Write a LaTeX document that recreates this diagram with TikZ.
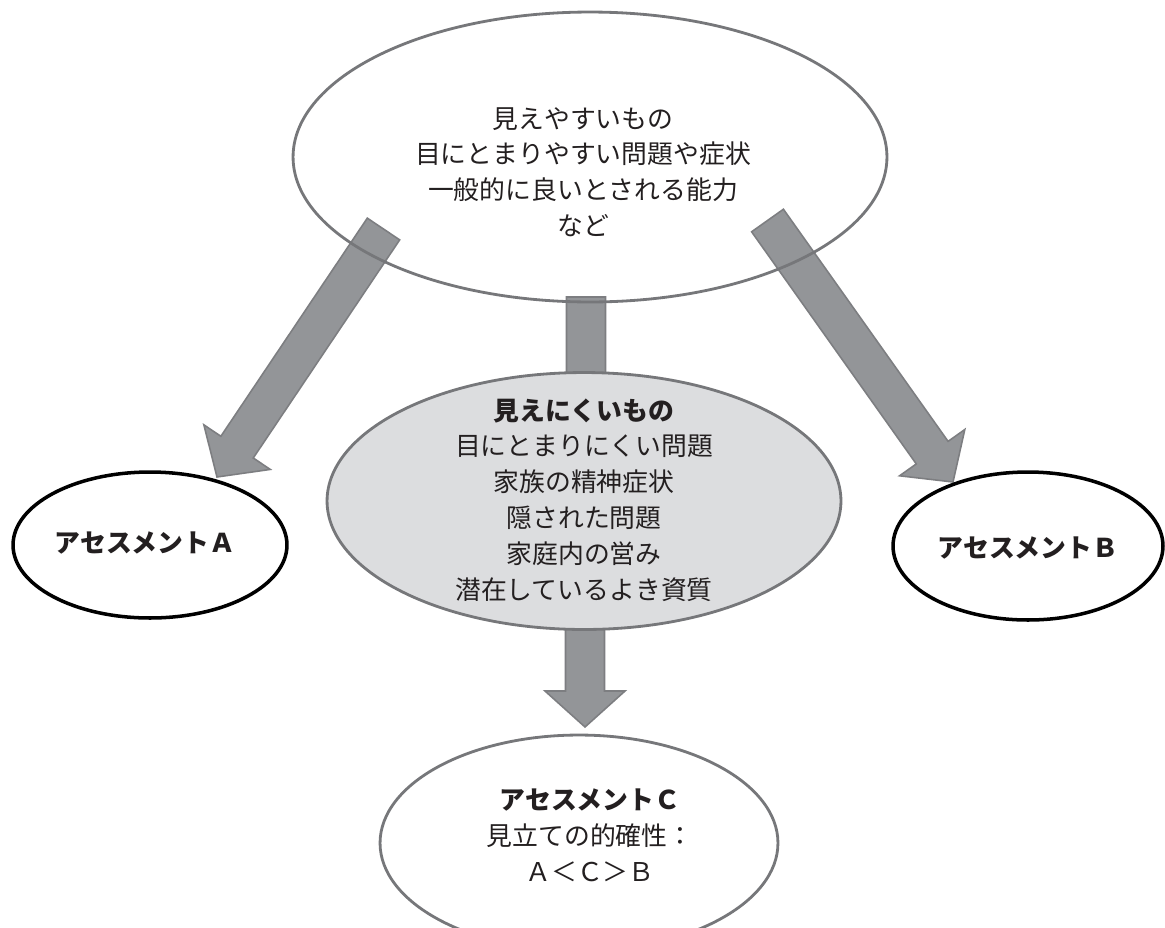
\documentclass[tikz,border=0pt]{standalone}
\usepackage{fontspec}
\newfontfamily\cjk{Noto Sans CJK JP}
\usetikzlibrary{shapes.geometric,calc}
\definecolor{arrowfill}{HTML}{939598}
\definecolor{arrowline}{HTML}{7D7E81}
\definecolor{ellline}{HTML}{76777A}
\definecolor{ellgray}{HTML}{DCDDDF}
\definecolor{txt}{HTML}{231F20}
\tikzset{
  blockarrowstyle/.style={fill=arrowfill, draw=arrowline, line width=0.9pt, line join=miter},
  ellbox/.style={ellipse, inner sep=0pt, outer sep=0pt},
  grayline/.style={draw=ellline, line width=1.6pt},
  blackline/.style={draw=black, line width=2pt},
  label/.style={font=\cjk\fontsize{14.7}{20.4}\selectfont, text=txt, align=center, inner sep=0pt}
}
% #1 tail, #2 tip
\newcommand{\blockarrow}[2]{%
  \coordinate (nk) at ($(#2)!0.72cm!(#1)$);
  \filldraw[blockarrowstyle]
    ($(#1)!0.39cm!90:(#2)$) -- ($(nk)!0.39cm!90:(#2)$) -- ($(nk)!0.8cm!90:(#2)$)
    -- (#2) -- ($(nk)!0.8cm!-90:(#2)$) -- ($(nk)!0.39cm!-90:(#2)$)
    -- ($(#1)!0.39cm!-90:(#2)$) -- cycle;}
\begin{document}
\begin{tikzpicture}[x=0.02cm, y=-0.02cm]
\useasboundingbox (0,0) rectangle (1165,927);
% arrow end points
\coordinate (tL) at (383.5,229);
\coordinate (pL) at (217,477);
\coordinate (tR) at (767.5,220.5);
\coordinate (pR) at (953,482);
\coordinate (tM) at (586,297);
\coordinate (pM) at (586,440);
\coordinate (tC) at (585,600);
\coordinate (pC) at (585,727);
% arrows
\blockarrow{tL}{pL}
\blockarrow{tR}{pR}
\blockarrow{tM}{pM}
\blockarrow{tC}{pC}
% top ellipse
\node[ellbox, grayline, minimum width=11.88cm, minimum height=5.8cm] (top) at (590,157) {};
\node[label] (toptext) at (583,172) {見えやすいもの\\目にとまりやすい問題や症状\\一般的に良いとされる能力\\など};
% middle gray ellipse
\node[ellbox, grayline, fill=ellgray, minimum width=10.28cm, minimum height=5.14cm] (mid) at (584,501) {};
\node[label] (midtext) at (584,500) {{\bfseries 見えにくいもの}\\目にとまりにくい問題\\家族の精神症状\\隠された問題\\家庭内の営み\\潜在しているよき資質};
% A and B
\node[ellbox, blackline, fill=white, minimum width=5.48cm, minimum height=2.92cm] (A) at (150,545) {};
\node[label, font=\cjk\bfseries\fontsize{14.7}{20.4}\selectfont] (Atext) at (145,543) {アセスメントＡ};
\node[ellbox, blackline, fill=white, minimum width=5.4cm, minimum height=2.96cm] (B) at (1028,546) {};
\node[label, font=\cjk\bfseries\fontsize{14.7}{20.4}\selectfont] (Btext) at (1028,548) {アセスメントＢ};
% C
\node[ellbox, grayline, fill=white, minimum width=7.96cm, minimum height=4.32cm] (C) at (579,843) {};
\node[label] (Ctext) at (590,835) {{\bfseries アセスメントＣ}\\見立ての的確性：\\Ａ＜Ｃ＞Ｂ};
\end{tikzpicture}
\end{document}
